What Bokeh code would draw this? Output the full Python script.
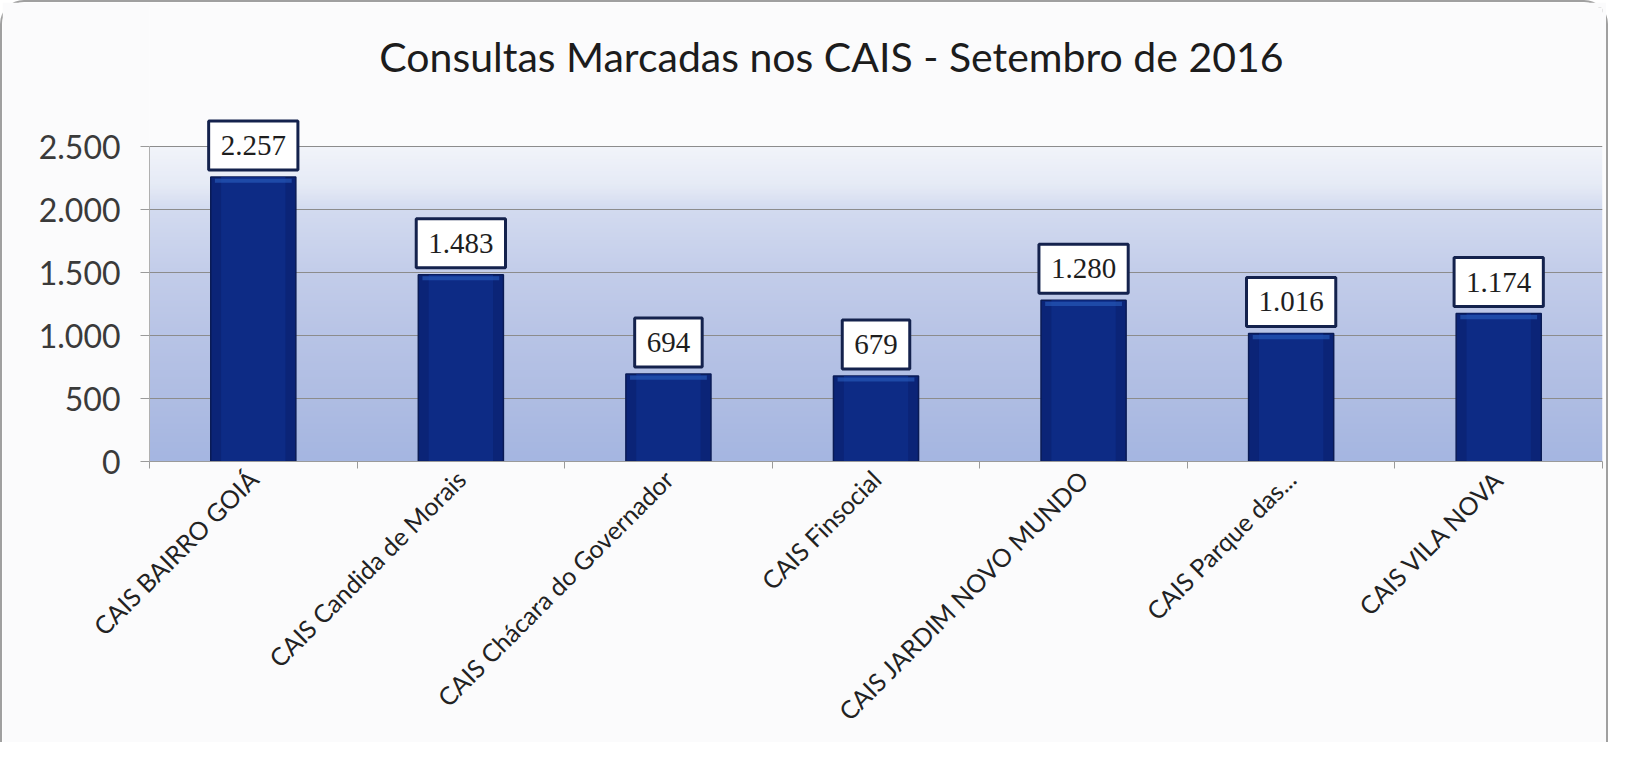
import numpy as np
from math import pi
from bokeh.plotting import figure
from bokeh.models import FixedTicker, Range1d, ColumnDataSource, Label
from bokeh.embed import file_html
from bokeh.resources import INLINE

# ---- data ----
categories = [
    "CAIS BAIRRO GOIÁ",
    "CAIS Candida de Morais",
    "CAIS Chácara do Governador",
    "CAIS Finsocial",
    "CAIS JARDIM NOVO MUNDO",
    "CAIS Parque das...",
    "CAIS VILA NOVA",
]
consultas = [2257, 1483, 694, 679, 1280, 1016, 1174]
y_ticks = [0, 500, 1000, 1500, 2000, 2500]
y_tick_labels = ["0", "500", "1.000", "1.500", "2.000", "2.500"]
title_text = "Consultas Marcadas nos CAIS - Setembro de 2016"
y_axis_max = 2500


def br(v):
    return f"{v:,}".replace(",", ".")


# ---- layout constants (pixels) ----
W, H = 1608, 742
MB_LEFT, MB_RIGHT, MB_TOP, MB_BOTTOM = 147, 8, 5, 283
frame_h = H - MB_TOP - MB_BOTTOM
px_per_unit = 315 / y_axis_max                # 0..2500 spans 315 px
view_top = frame_h / px_per_unit              # headroom holds the title
title_y = view_top - 49 / px_per_unit         # title centre below frame top
frame_w = W - 2 - MB_LEFT - MB_RIGHT
n_cat = len(categories)
title_x = -0.5 + (681 / frame_w) * n_cat
lip = 45                                      # bar-top highlight depth (data units)

xs = list(range(n_cat))
src = ColumnDataSource(dict(
    x=xs, top=consultas,
    lip_top=[v - 12 for v in consultas],
    lip_bottom=[v - lip for v in consultas],
))

BG = "#fbfbfc"
p = figure(
    width=W, height=H,
    output_backend="svg", toolbar_location=None,
    x_range=Range1d(-0.5, n_cat - 0.5),
    y_range=Range1d(0, view_top),
    min_border_left=MB_LEFT, min_border_right=MB_RIGHT,
    min_border_top=MB_TOP, min_border_bottom=MB_BOTTOM,
)
p.title = None
p.styles = {"border": "2px solid #a0a0a0", "border-bottom": "none",
            "border-radius": "24px 24px 0 0", "box-sizing": "border-box"}
p.background_fill_color = BG
p.border_fill_color = BG
p.outline_line_color = None

# title (inside the frame's headroom)
p.add_layout(Label(x=title_x, y=title_y, text=title_text,
                   text_align="center", text_baseline="middle",
                   text_font="Lato", text_font_size="41px",
                   text_color="#1c1c1c"))

# plot-area gradient (pure decoration) from 0 up to the top gridline
stops_y = [0, 500, 1000, 1500, 2000, 2200, 2500]
stops_c = ["#a5b6e1", "#afbde3", "#b8c4e6", "#c3cdea", "#d3dbf0", "#e6ebf6", "#f2f4fa"]
n = 250
ys = np.linspace(0, y_axis_max, n)
rgb = np.array([[int(c[i:i + 2], 16) for i in (1, 3, 5)] for c in stops_c], dtype=float)
img = np.zeros((n, 1), dtype=np.uint32)
view = img.view(dtype=np.uint8).reshape((n, 1, 4))
for k in range(3):
    view[:, 0, k] = np.interp(ys, stops_y, rgb[:, k]).astype(np.uint8)
view[:, 0, 3] = 255
p.image_rgba(image=[img], x=-0.5, y=0, dw=n_cat, dh=y_axis_max, level="image")

# bars (slightly darker edges, lighter lip at the top)
p.vbar(x="x", top="top", width=0.41, source=src,
       fill_color="#0b2477", line_color="#0a1b55", line_width=1.5)
p.vbar(x="x", top="top", width=0.31, source=src,
       fill_color="#0d2b85", line_color=None)
p.vbar(x="x", top="lip_top", bottom="lip_bottom", width=0.37, source=src,
       fill_color="#2a5fc0", fill_alpha=0.6, line_color=None)

# data labels in boxes
for xi, v in zip(xs, consultas):
    p.add_layout(Label(
        x=xi, y=v, text=br(v),
        text_align="center", text_baseline="bottom", y_offset=7,
        text_font="Liberation Serif", text_font_size="29px",
        text_color="#1e1e1e",
        padding=dict(left=12, right=12, top=15, bottom=15),
        background_fill_color="#ffffff",
        border_line_color="#14224d", border_line_width=3))

# grid
p.xgrid.grid_line_color = None
p.ygrid.ticker = FixedTicker(ticks=y_ticks)
p.ygrid.grid_line_color = "#8c8c8c"
p.ygrid.grid_line_width = 1

# y axis
p.yaxis.ticker = FixedTicker(ticks=y_ticks)
p.yaxis.bounds = (0, y_axis_max)
p.yaxis.major_label_overrides = dict(zip(y_ticks, y_tick_labels))
p.yaxis.axis_line_color = "#b0b0b0"
p.yaxis.major_tick_line_color = "#9a9a9a"
p.yaxis.major_tick_in = 0
p.yaxis.major_tick_out = 9
p.yaxis.minor_tick_line_color = None
p.yaxis.major_label_standoff = 20
p.yaxis.major_label_text_font = "Lato"
p.yaxis.major_label_text_font_size = "32px"
p.yaxis.major_label_text_color = "#3a3a3a"

# x axis
bounds = [i - 0.5 for i in range(n_cat + 1)]
p.xaxis.ticker = FixedTicker(ticks=xs, minor_ticks=bounds)
p.xaxis.major_label_overrides = dict(zip(xs, categories))
p.xaxis.major_label_orientation = pi / 4
p.xaxis.major_tick_line_color = None
p.xaxis.major_tick_out = 0
p.xaxis.minor_tick_line_color = "#9a9a9a"
p.xaxis.minor_tick_in = 0
p.xaxis.minor_tick_out = 7
p.xaxis.axis_line_color = "#9a9a9a"
p.xaxis.major_label_standoff = 6
p.xaxis.major_label_text_font = "Lato"
p.xaxis.major_label_text_font_size = "25px"
p.xaxis.major_label_text_color = "#222222"

open("out.html", "w").write(file_html(p, INLINE))
